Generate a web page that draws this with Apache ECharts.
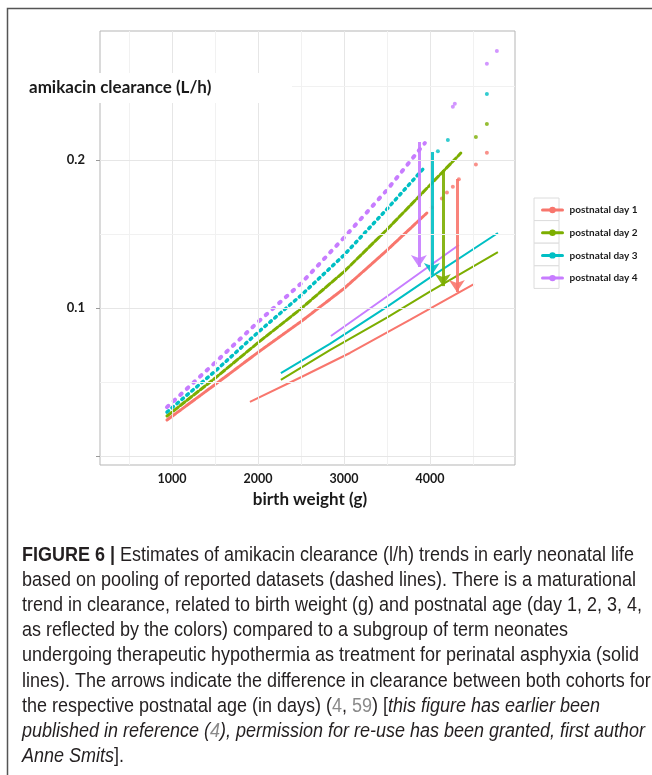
<!DOCTYPE html>
<html>
<head>
<meta charset="utf-8">
<script src="https://cdn.jsdelivr.net/npm/echarts@6/dist/echarts.min.js"></script>
<style>
html,body{margin:0;padding:0;background:#fff;}
#chart{width:652px;height:775px;}
</style>
</head>
<body>
<div id="chart"></div>
<script>
// ---- axis / tick data ----
const xTickLabels = [1000, 2000, 3000, 4000];
const xMinor = [500, 1500, 2500, 3500, 4500];
const yTicks = [0, 0.1, 0.2];
const yTickLabels = [0.1, 0.2];
const yMinor = [0.05, 0.15, 0.25];
const legendNames = ['postnatal day 1', 'postnatal day 2', 'postnatal day 3', 'postnatal day 4'];
const colors = ['#F8766D', '#7CAE00', '#00BFC4', '#C77CFF'];

// ---- pooled estimates (dotted), [birth weight g, clearance L/h] ----
const pooledDay1 = [[942,0.0243],[1500,0.0482],[2000,0.0700],[2500,0.0908],[3000,0.1131],[3500,0.1390],[3965,0.1642]];
const pooledDay2 = [[942,0.0270],[1500,0.0525],[2000,0.0765],[2500,0.0995],[3000,0.1245],[3500,0.1530],[4000,0.1830],[4360,0.2047]];
const pooledDay3 = [[942,0.0297],[1500,0.0572],[2000,0.0835],[2500,0.1085],[3000,0.1357],[3500,0.1668],[3942,0.1953]];
const pooledDay4 = [[942,0.0330],[1500,0.0630],[2000,0.0905],[2500,0.1165],[3000,0.1475],[3500,0.1797],[3942,0.2115]];

// sparse dots at the heavy end of the pooled curves
const sparseDay1 = [[4023,0.168],[4140,0.174],[4198,0.178],[4267,0.182],[4337,0.187],[4535,0.197],[4663,0.205]];
const sparseDay2 = [[4535,0.2155],[4663,0.2243]];
const sparseDay3 = [[4093,0.206],[4209,0.2135],[4663,0.2446]];
const sparseDay4 = [[4267,0.236],[4290,0.238],[4663,0.265],[4779,0.2736]];

// ---- hypothermia subgroup (solid) ----
const hypoDay1 = [[1907,0.0365],[2500,0.0532],[3070,0.0696],[3767,0.0919],[4512,0.1162]];
const hypoDay2 = [[2267,0.0514],[2837,0.0716],[3500,0.0935],[4000,0.1110],[4791,0.1378]];
const hypoDay3 = [[2267,0.0560],[2837,0.0757],[3500,0.1008],[4000,0.1205],[4791,0.1507]];
const hypoDay4 = [[2849,0.0811],[3500,0.1078],[4337,0.1426]];

// ---- arrows: [x, from, to] ----
const arrowDay1 = [4314, 0.1872, 0.1108];
const arrowDay2 = [4151, 0.1932, 0.1148];
const arrowDay3 = [4023, 0.2054, 0.1223];
const arrowDay4 = [3872, 0.2122, 0.1277];

const pooled = [pooledDay1, pooledDay2, pooledDay3, pooledDay4];
const sparse = [sparseDay1, sparseDay2, sparseDay3, sparseDay4];
const hypo = [hypoDay1, hypoDay2, hypoDay3, hypoDay4];
const arrows = [arrowDay1, arrowDay2, arrowDay3, arrowDay4];
const dashes = [[5,1],[6,2.5],[2,4.5],[2,7]];
const widths = [3, 3, 3.5, 4];

const axisFont = 'Lato, "Open Sans", sans-serif';
const capFontName = '"Liberation Sans", Arial, sans-serif';
const capSize = 20.5;

// measure caption width to mimic the condensed face of the original
const mctx = document.createElement('canvas').getContext('2d');
mctx.font = capSize + 'px ' + capFontName;
const capRefText = 'based on pooling of reported datasets (dashed lines). There is a maturational';
const capScale = 614 / mctx.measureText(capRefText).width;

const series = [];
series.push({
  type: 'line', name: 'gridlines', data: [], z: 0, silent: true,
  markLine: {
    silent: true, symbol: 'none', animation: false, label: {show: false},
    data: [].concat(
      xTickLabels.map(v => ({xAxis: v, lineStyle: {color: '#e6e6e6', width: 1, type: 'solid'}})),
      xMinor.map(v => ({xAxis: v, lineStyle: {color: '#f1f1f1', width: 1, type: 'solid'}})),
      yTicks.map(v => ({yAxis: v, lineStyle: {color: '#e6e6e6', width: 1, type: 'solid'}})),
      yMinor.map(v => ({yAxis: v, lineStyle: {color: '#f1f1f1', width: 1, type: 'solid'}}))
    )
  }
});
for (let i = 0; i < 4; i++) {
  series.push({
    type: 'line', name: legendNames[i], data: pooled[i], z: 3,
    showSymbol: false, symbol: 'circle', symbolSize: 5,
    itemStyle: {color: colors[i]},
    lineStyle: {color: colors[i], width: widths[i], type: dashes[i], cap: 'round'}
  });
  series.push({
    type: 'scatter', name: 'sparse ' + (i+1), data: sparse[i], z: 3,
    symbolSize: 4, itemStyle: {color: colors[i]}
  });
  series.push({
    type: 'line', name: 'hypothermia ' + (i+1), data: hypo[i], z: 3,
    showSymbol: false, lineStyle: {color: colors[i], width: 2}
  });
}
series.push({
  type: 'lines', name: 'arrows', coordinateSystem: 'cartesian2d', z: 4,
  symbol: ['none', 'arrow'], symbolSize: [9, 12],
  data: arrows.map((a, i) => ({coords: [[a[0], a[1]], [a[0], a[2]]], lineStyle: {color: colors[i], width: 3, opacity: 0.9}}))
});

const mk = (extra) => Object.assign({fontFamily: capFontName, fontSize: capSize, fill: '#231f20', fontWeight: 'normal', fontStyle: 'normal'}, extra || {});
const captionRich = {
  b: mk({fontWeight: 'bold'}),
  n: mk(),
  g: mk({fill: '#8a8a8a'}),
  i: mk({fontStyle: 'italic'}),
  gi: mk({fontStyle: 'italic', fill: '#8a8a8a'})
};
const captionLines = [
  '{b|FIGURE 6 |}{n| Estimates of amikacin clearance (l/h) trends in early neonatal life}',
  '{n|based on pooling of reported datasets (dashed lines). There is a maturational}',
  '{n|trend in clearance, related to birth weight (g) and postnatal age (day 1, 2, 3, 4,}',
  '{n|as reflected by the colors) compared to a subgroup of term neonates}',
  '{n|undergoing therapeutic hypothermia as treatment for perinatal asphyxia (solid}',
  '{n|lines). The arrows indicate the difference in clearance between both cohorts for}',
  '{n|the respective postnatal age (in days) (}{g|4}{n|, }{g|59}{n|) [}{i|this figure has earlier been}',
  '{i|published in reference (}{gi|4}{i|), permission for re-use has been granted, first author}',
  '{i|Anne Smits}{n|].}'
];

const graphics = [
  {type: 'rect', z: 0, shape: {x: 7.5, y: 8.5, width: 700, height: 800}, style: {fill: 'none', stroke: '#555', lineWidth: 1.5}},
  {type: 'rect', z: 10, shape: {x: 12, y: 73, width: 280, height: 30}, style: {fill: '#fff'}},
  {type: 'text', z: 11, style: {x: 29, y: 88, text: 'amikacin clearance (L/h)', fontFamily: axisFont, fontWeight: 'bold', fontSize: 17, fill: '#1a1a1a', verticalAlign: 'middle'}},
  {type: 'text', z: 11, style: {x: 310, y: 500, text: 'birth weight (g)', fontFamily: axisFont, fontWeight: 'bold', fontSize: 17, fill: '#1a1a1a', align: 'center', verticalAlign: 'middle'}}
];
for (let i = 0; i < 4; i++) {
  graphics.push({type: 'rect', z: 1, shape: {x: 534, y: 198 + i * 22.6, width: 25, height: 22.6}, style: {fill: '#fff', stroke: '#dcdcdc', lineWidth: 1}});
}
captionLines.forEach((t, i) => {
  graphics.push({type: 'text', z: 5, x: 22, y: 555 + i * 25.2, scaleX: capScale, scaleY: 1,
    style: {x: 0, y: 0, text: t, rich: captionRich, fontFamily: capFontName, fontSize: capSize, fill: '#231f20', verticalAlign: 'middle'}});
});

const chart = echarts.init(document.getElementById('chart'), null, {renderer: 'canvas'});
chart.setOption({
  animation: false,
  backgroundColor: '#fff',
  grid: {left: 100, top: 31, width: 415, height: 434, show: true, borderColor: '#b5b5b5', borderWidth: 1, backgroundColor: '#fff', containLabel: false},
  xAxis: {
    type: 'value', min: 163, max: 4990,
    axisLine: {show: false},
    splitLine: {show: false},
    axisTick: {show: true, customValues: xTickLabels, length: 3, lineStyle: {color: '#999'}},
    axisLabel: {customValues: xTickLabels, margin: 7, fontFamily: axisFont, fontWeight: 'bold', fontSize: 12.5, color: '#1a1a1a', formatter: v => String(v)}
  },
  yAxis: {
    type: 'value', min: -0.0061, max: 0.2872,
    axisLine: {show: false},
    splitLine: {show: false},
    axisTick: {show: true, customValues: yTicks, length: 4, lineStyle: {color: '#999'}},
    axisLabel: {customValues: yTickLabels, margin: 15, fontFamily: axisFont, fontWeight: 'bold', fontSize: 13, color: '#1a1a1a', formatter: v => String(v)}
  },
  legend: {
    data: legendNames, orient: 'vertical', left: 536, top: 200,
    itemWidth: 20, itemHeight: 8, itemGap: 12.7,
    lineStyle: {type: 'solid', width: 3},
    formatter: name => '{a|' + name + '}',
    textStyle: {
      fontFamily: axisFont, fontWeight: 'bold', fontSize: 10, color: '#1a1a1a',
      rich: {a: {fontFamily: axisFont, fontWeight: 'bold', fontSize: 10, color: '#1a1a1a', padding: [0, 0, 0, 2]}}
    },
    selectedMode: false
  },
  graphic: graphics,
  series: series
});
</script>
</body>
</html>
